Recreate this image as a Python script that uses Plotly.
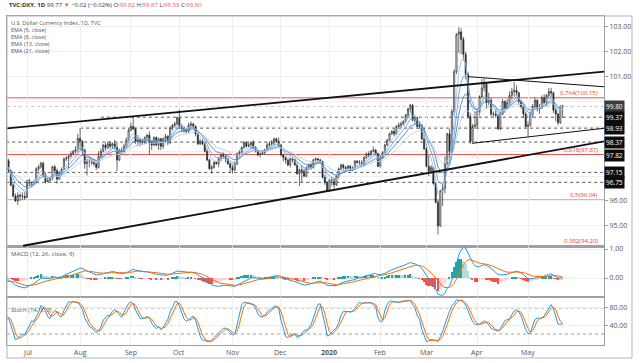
import plotly.graph_objects as go
from plotly.subplots import make_subplots
import pandas as pd

# ---------------- DATA ----------------
# daily candles, U.S. Dollar Index (TVC:DXY), 13 May 2019 .. 22 May 2020
# first 27 rows (13 May - 18 Jun 2019) are warm-up rows, left of the visible range
n_pre = 27
opens = [
 97.30,97.35,97.55,97.55,97.85,98.00,98.00,98.05,98.10,97.90,97.60,97.65,97.90,98.15,98.20,
 97.75,97.15,97.15,97.00,96.95,96.55,96.75,96.70,97.00,97.00,97.55,97.60,
 97.62,97.23,96.64,96.20,96.00,96.23,96.20,96.19,
 96.13,96.82,96.72,96.77,96.78,97.29,97.37,97.52,97.05,96.78,96.81,96.92,97.38,97.22,96.88,97.15,97.27,97.69,97.72,97.80,97.91,98.00,98.05,
 98.52,98.40,98.05,97.50,97.60,97.60,97.55,97.50,97.35,97.80,98.00,98.25,98.15,98.30,98.20,98.30,98.15,97.65,98.05,98.00,98.20,98.45,
 98.85,99.00,98.90,98.40,98.45,98.40,98.35,98.55,98.65,98.35,98.25,98.55,98.25,98.50,98.20,98.50,98.60,98.35,98.95,99.05,99.10,
 99.35,99.00,98.90,98.85,98.80,99.05,99.10,99.00,98.70,98.30,98.40,98.30,98.00,97.65,97.30,97.35,97.55,97.50,97.70,97.85,97.80,97.70,97.50,
 97.35,97.25,97.50,97.90,97.95,98.15,98.35,98.20,98.25,98.35,98.15,98.00,97.85,97.90,97.95,98.05,98.25,98.30,98.30,98.50,98.40,
 98.25,97.85,97.75,97.65,97.45,97.70,97.65,97.45,97.10,97.25,97.20,97.00,97.30,97.45,97.35,97.65,97.70,97.65,97.60,96.95,96.75,
 96.40,96.85,96.85,96.65,97.00,97.30,97.45,97.35,97.30,97.40,97.25,97.30,97.60,97.55,97.55,97.50,97.75,97.90,97.85,98.00,98.05,97.90,
 97.40,97.75,97.95,98.25,98.45,98.70,98.80,98.70,99.00,99.05,99.10,99.20,99.45,99.70,99.85,99.25,99.35,99.00,99.05,98.50,
 98.10,97.40,97.20,97.35,96.70,95.95,95.00,96.40,96.50,97.50,98.70,98.00,99.60,101.20,102.70,102.80,102.50,101.90,101.10,99.40,98.40,99.00,
 99.05,99.60,100.20,100.55,100.70,99.95,100.05,99.50,99.50,99.45,98.90,99.50,100.00,99.75,99.95,100.25,100.40,100.45,100.35,100.00,99.80,99.50,
 99.00,99.05,99.50,99.80,100.05,99.70,99.75,100.15,99.95,100.25,100.40,100.35,99.65,99.50,99.15,99.82,
]
highs = [
 97.50,97.60,97.65,97.90,98.05,98.10,98.15,98.20,98.37,97.95,97.70,97.95,98.20,98.25,98.25,
 97.80,97.35,97.40,97.10,97.05,96.80,96.85,97.05,97.10,97.55,97.65,97.70,
 97.70,97.25,96.75,96.30,96.35,96.30,96.35,96.35,
 96.85,96.90,96.80,96.85,97.35,97.45,97.58,97.58,97.15,96.95,96.95,97.40,97.45,97.30,97.20,97.35,97.75,97.80,97.85,98.00,98.05,98.20,98.70,
 98.93,98.45,98.10,97.70,97.70,97.70,97.65,97.55,98.00,98.10,98.30,98.35,98.40,98.40,98.35,98.45,98.35,98.10,98.15,98.30,98.55,98.90,
 99.15,99.37,98.95,98.65,98.55,98.50,98.60,98.70,98.80,98.45,98.60,98.60,98.55,98.55,98.55,98.70,98.65,99.00,99.10,99.20,99.40,
 99.67,99.10,99.00,98.95,99.15,99.20,99.15,99.05,98.75,98.50,98.50,98.35,98.10,97.70,97.45,97.60,97.60,97.75,97.90,97.95,97.85,97.75,97.55,
 97.45,97.60,97.95,98.05,98.20,98.40,98.40,98.35,98.40,98.45,98.20,98.05,97.95,98.05,98.10,98.35,98.40,98.45,98.55,98.55,98.55,
 98.30,97.90,97.80,97.70,97.75,97.75,97.70,97.55,97.30,97.45,97.30,97.40,97.50,97.55,97.70,97.75,97.72,97.70,97.60,97.05,96.80,
 96.85,96.95,96.90,97.05,97.35,97.50,97.50,97.40,97.45,97.45,97.40,97.65,97.65,97.65,97.65,97.80,97.95,98.00,98.05,98.20,98.10,97.95,
 97.85,98.00,98.30,98.50,98.75,98.85,98.90,99.05,99.15,99.20,99.25,99.50,99.75,99.91,99.90,99.45,99.40,99.20,99.10,98.95,
 98.30,97.85,97.45,97.40,96.75,96.05,96.45,96.70,97.80,98.75,98.90,99.70,101.30,102.75,102.99,102.95,102.60,102.00,101.20,99.55,99.10,99.60,
 99.65,100.25,100.90,100.93,100.75,100.35,100.15,99.60,99.70,99.50,99.60,100.10,100.05,100.10,100.40,100.55,100.80,100.65,100.40,100.05,99.90,99.60,
 99.20,99.60,99.90,100.15,100.10,99.90,100.25,100.30,100.30,100.55,100.55,100.40,99.75,99.55,99.85,99.87,
]
lows = [
 97.15,97.30,97.35,97.50,97.80,97.90,97.95,97.95,97.80,97.55,97.55,97.60,97.85,98.05,97.70,
 97.05,96.95,96.95,96.75,96.45,96.50,96.55,96.60,96.90,96.95,97.45,97.35,
 97.15,96.58,96.14,95.96,95.84,96.00,96.05,96.05,
 96.13,96.60,96.55,96.68,96.70,97.20,97.30,96.95,96.70,96.75,96.80,96.85,97.10,96.70,96.85,97.05,97.25,97.60,97.30,97.75,97.85,97.90,97.95,
 98.05,97.90,97.30,97.03,97.35,97.45,97.40,97.25,97.30,97.70,97.95,98.05,98.10,98.10,98.10,98.10,97.20,97.60,97.90,97.95,98.15,98.40,
 98.80,98.85,98.30,98.20,98.20,98.25,98.30,98.45,97.87,98.05,98.20,98.20,98.05,98.05,98.10,98.35,98.25,98.30,98.85,98.95,99.05,
 98.90,98.80,98.75,98.70,98.75,98.95,98.90,98.60,98.25,98.25,98.25,97.95,97.60,97.25,97.10,97.30,97.45,97.35,97.60,97.70,97.55,97.45,97.15,
 97.10,97.20,97.45,97.80,97.85,98.10,98.15,98.15,98.10,98.10,97.95,97.80,97.75,97.85,97.85,98.00,98.15,98.20,98.25,98.35,98.15,
 97.80,97.60,97.50,97.40,97.35,97.55,97.40,97.05,96.60,96.75,96.95,96.95,97.25,97.25,97.30,97.55,97.55,97.50,96.90,96.65,96.36,
 96.38,96.60,96.50,96.60,96.90,97.25,97.20,97.20,97.25,97.20,97.20,97.25,97.50,97.45,97.45,97.45,97.70,97.75,97.80,97.95,97.85,97.35,
 97.35,97.70,97.90,98.20,98.40,98.65,98.60,98.65,98.95,98.95,99.05,99.15,99.40,99.55,99.20,99.10,98.95,98.90,98.45,98.05,
 97.35,97.00,97.10,96.65,95.90,94.65,94.95,95.80,96.30,97.45,97.60,97.90,99.40,101.10,101.95,101.90,101.65,100.90,99.30,98.30,98.35,98.90,
 98.90,99.45,100.15,100.40,99.70,99.85,99.40,99.40,99.35,98.85,98.85,99.45,99.55,99.70,99.85,100.10,100.20,100.20,99.85,99.70,99.35,98.95,
 98.60,99.00,99.35,99.70,99.60,99.50,99.70,99.90,99.80,100.15,100.15,99.55,99.20,99.05,99.10,99.33,
]
closes = [
 97.35,97.55,97.55,97.85,98.00,98.00,98.05,98.10,97.90,97.60,97.65,97.90,98.15,98.20,97.75,
 97.15,97.15,97.00,96.95,96.55,96.75,96.70,97.00,97.00,97.55,97.60,97.62,
 97.23,96.64,96.20,96.00,96.23,96.20,96.19,96.13,
 96.82,96.72,96.77,96.78,97.29,97.37,97.52,97.05,96.78,96.81,96.92,97.38,97.22,96.88,97.15,97.27,97.69,97.72,97.80,97.91,98.00,98.05,98.52,
 98.40,98.05,97.50,97.60,97.60,97.55,97.50,97.35,97.80,98.00,98.25,98.15,98.30,98.20,98.30,98.15,97.65,98.05,98.00,98.20,98.45,98.85,
 99.00,98.90,98.40,98.45,98.40,98.35,98.55,98.65,98.35,98.25,98.55,98.25,98.50,98.20,98.50,98.60,98.35,98.95,99.05,99.10,99.35,
 99.00,98.90,98.85,98.80,99.05,99.10,99.00,98.70,98.30,98.40,98.30,98.00,97.65,97.30,97.35,97.55,97.50,97.70,97.85,97.80,97.70,97.50,97.35,
 97.25,97.50,97.90,97.95,98.15,98.35,98.20,98.25,98.35,98.15,98.00,97.85,97.90,97.95,98.05,98.25,98.30,98.30,98.50,98.40,98.25,
 97.85,97.75,97.65,97.45,97.70,97.65,97.45,97.10,97.25,97.20,97.00,97.30,97.45,97.35,97.65,97.70,97.65,97.60,96.95,96.75,96.40,
 96.85,96.85,96.65,97.00,97.30,97.45,97.35,97.30,97.40,97.25,97.30,97.60,97.55,97.55,97.50,97.75,97.90,97.85,98.00,98.05,97.90,97.40,
 97.75,97.95,98.25,98.45,98.70,98.80,98.70,99.00,99.05,99.10,99.20,99.45,99.70,99.85,99.25,99.35,99.00,99.05,98.50,98.10,
 97.40,97.20,97.35,96.70,95.95,95.00,96.40,96.50,97.50,98.70,98.00,99.60,101.20,102.70,102.80,102.50,101.90,101.10,99.40,98.40,99.00,99.05,
 99.60,100.20,100.55,100.70,99.95,100.05,99.50,99.50,99.45,98.90,99.50,100.00,99.75,99.95,100.25,100.40,100.45,100.35,100.00,99.80,99.50,99.00,
 99.05,99.50,99.80,100.05,99.70,99.75,100.15,99.95,100.25,100.40,100.35,99.65,99.50,99.15,99.82,99.80,
]

month_tick_idx = [8, 31, 53, 74, 97, 118, 139, 161, 181, 203, 225]
month_tick_text = ['Jul', 'Aug', 'Sep', 'Oct', 'Nov', 'Dec', '<b>2020</b>', 'Feb', 'Mar', 'Apr', 'May']

ema_periods = [5, 8, 13, 21]
ema_names = ['EMA (5, close)', 'EMA (8, close)', 'EMA (13, close)', 'EMA (21, close)']

fib_levels = [100.15, 97.87, 96.04, 94.20]
fib_labels = ['0.764(100.15)', '0.618(97.87)', '0.5(96.04)', '0.382(94.20)']

level_prices = [99.37, 98.93, 98.37, 97.15, 96.75]
level_start_idx = [40, 31, -1, -1, -1]

tag_prices = [99.80, 99.37, 98.93, 98.37, 97.82, 97.15, 96.75]

# trendlines: (start idx, start price, end idx, end price)
channel_upper = (-1.0, 98.92, 258.5, 101.21)
channel_lower = (6.3, 94.20, 258.5, 98.41)
tri_upper = (199.0, 101.00, 258.5, 100.59)
tri_lower = (200.7, 98.32, 258.5, 98.93)

price_ticks = [95, 96, 97, 98, 99, 100, 101, 102, 103]
price_tick_shown = [95, 96, 101, 102, 103]   # the others sit under the price tags

# ---------------- INDICATORS ----------------
idx = list(range(-n_pre, len(closes) - n_pre))
df = pd.DataFrame(dict(o=opens, h=highs, l=lows, c=closes), index=idx)
emas = [df.c.ewm(span=p, adjust=False).mean() for p in ema_periods]
macd = df.c.ewm(span=12, adjust=False).mean() - df.c.ewm(span=26, adjust=False).mean()
signal = macd.ewm(span=9, adjust=False).mean()
hist = macd - signal
prev = hist.shift(1).fillna(0)
hist_colors = []
for h, p in zip(hist, prev):
    if h >= 0:
        hist_colors.append('#26a69a' if h >= p else '#b2dfdb')
    else:
        hist_colors.append('#ef5350' if h <= p else '#ffcdd2')
ll = df.l.rolling(14).min()
hh = df.h.rolling(14).max()
k_raw = 100 * (df.c - ll) / (hh - ll)
stoch_k = k_raw.rolling(3).mean()
stoch_d = stoch_k.rolling(3).mean()

# ---------------- FIGURE ----------------
FONT = 'Open Sans'
fig = make_subplots(rows=3, cols=1, shared_xaxes=True, vertical_spacing=0)

fig.add_trace(go.Candlestick(
    x=idx, open=df.o, high=df.h, low=df.l, close=df.c,
    increasing=dict(line=dict(color='#2a2a2a', width=0.7), fillcolor='#ffffff'),
    decreasing=dict(line=dict(color='#2a2a2a', width=0.7), fillcolor='#2a2a2a'),
    whiskerwidth=0, showlegend=False, hoverinfo='skip'), row=1, col=1)

ema_colors = ['#9cc3ea', '#6ea5dc', '#4f86c6', '#b9d0ea']
for s, c in zip(emas, ema_colors):
    fig.add_trace(go.Scatter(x=idx, y=s, mode='lines', line=dict(color=c, width=0.9),
                             showlegend=False, hoverinfo='skip'), row=1, col=1)

fig.add_trace(go.Bar(x=idx, y=hist, marker=dict(color=hist_colors, line=dict(width=0)),
                     width=0.7, showlegend=False, hoverinfo='skip'), row=2, col=1)
fig.add_trace(go.Scatter(x=idx, y=macd, mode='lines', line=dict(color='#2196f3', width=1),
                         showlegend=False, hoverinfo='skip'), row=2, col=1)
fig.add_trace(go.Scatter(x=idx, y=signal, mode='lines', line=dict(color='#ff6d00', width=1),
                         showlegend=False, hoverinfo='skip'), row=2, col=1)

fig.add_trace(go.Scatter(x=idx, y=stoch_k, mode='lines', line=dict(color='#2196f3', width=1),
                         showlegend=False, hoverinfo='skip'), row=3, col=1)
fig.add_trace(go.Scatter(x=idx, y=stoch_d, mode='lines', line=dict(color='#ff6d00', width=1),
                         showlegend=False, hoverinfo='skip'), row=3, col=1)

# ---- shapes ----
shapes = []
for lvl in fib_levels:
    shapes.append(dict(type='line', xref='x domain', x0=0, x1=1, yref='y', y0=lvl, y1=lvl,
                       line=dict(color='#ef5350', width=1), layer='below'))
shapes.append(dict(type='line', xref='x domain', x0=0, x1=1, yref='y', y0=99.80, y1=99.80,
                   line=dict(color='#d8c8cc', width=1, dash='dot'), layer='below'))
for lvl, st in zip(level_prices, level_start_idx):
    shapes.append(dict(type='line', xref='x', x0=st, x1=258.5, yref='y', y0=lvl, y1=lvl,
                       line=dict(color='#555555', width=1, dash='dot'), layer='below'))
for ln, w in [(channel_upper, 1.8), (channel_lower, 1.8), (tri_upper, 1), (tri_lower, 1)]:
    shapes.append(dict(type='line', xref='x', yref='y', x0=ln[0], y0=ln[1], x1=ln[2], y1=ln[3],
                       line=dict(color='#111111', width=w)))
for lvl in [80, 20]:
    shapes.append(dict(type='line', xref='x3 domain', x0=0, x1=1, yref='y3', y0=lvl, y1=lvl,
                       line=dict(color='#9e9e9e', width=1, dash='dot'), layer='below'))
# outer frame
shapes.append(dict(type='rect', xref='paper', yref='paper', x0=0, x1=1.0469, y0=-0.0395, y1=1,
                   line=dict(color='#b5b5b5', width=1)))

# ---- annotations ----
ann = []
for lvl, txt in zip(fib_levels, fib_labels):
    ann.append(dict(x=256.2, y=lvl, xref='x', yref='y', text=txt, showarrow=False,
                    xanchor='right', yanchor='bottom', yshift=-1,
                    font=dict(family=FONT, size=6, color='#e53935')))
for p in tag_prices:
    ann.append(dict(x=1, y=p, xref='paper', yref='y', text=f'{p:.2f}', showarrow=False,
                    xanchor='left', yanchor='middle', xshift=0,
                    bgcolor='#3a3a3a' if p == 99.80 else '#0d0d0d', borderpad=1,
                    font=dict(family=FONT, size=6.5, color='white')))
for t, txt in zip(month_tick_idx, month_tick_text):
    ann.append(dict(x=t, y=(345 - 352) / 329, xref='x3', yref='paper', text=txt, showarrow=False,
                    xanchor='center', yanchor='middle',
                    font=dict(family=FONT, size=7, color='#555555')))

red = '#ef5350'
header = ("<b>TVC:DXY, 1D</b> 99.77 <span style='color:%s'>▼</span> −0.02 (−0.02%%) "
          "O:<span style='color:%s'>99.82</span> H:<span style='color:%s'>99.87</span> "
          "L:<span style='color:%s'>99.33</span> C:<span style='color:%s'>99.80</span>") % (red, red, red, red, red)
ann.append(dict(x=0, y=1.034, xref='paper', yref='paper', text=header, showarrow=False,
                xanchor='left', yanchor='middle', font=dict(family=FONT, size=6, color='#333333')))

legend_lines = ['U.S. Dollar Currency Index, 1D, TVC'] + ema_names
for i, t in enumerate(legend_lines):
    ann.append(dict(x=0.004, y=(345 - (23 + 6.9 * i)) / 329, xref='paper', yref='paper', text=t,
                    showarrow=False, xanchor='left', yanchor='middle',
                    font=dict(family=FONT, size=5.5, color='#555555')))
ann.append(dict(x=0.004, y=(345 - 254) / 329, xref='paper', yref='paper', text='MACD (12, 26, close, 9)',
                showarrow=False, xanchor='left', yanchor='middle', font=dict(family=FONT, size=6, color='#555555')))
ann.append(dict(x=0.004, y=(345 - 310) / 329, xref='paper', yref='paper', text='Stoch (14, 3, 3)',
                showarrow=False, xanchor='left', yanchor='middle', font=dict(family=FONT, size=6, color='#555555')))

# ---- axes ----
xr = [-0.66, 257.9]
axis_common = dict(showline=True, linecolor='#a0a0a0', linewidth=1, mirror=True, zeroline=False)
for r in [1, 2, 3]:
    fig.update_xaxes(row=r, col=1, range=xr, tickvals=month_tick_idx, ticktext=month_tick_text,
                     showgrid=True, gridcolor='#efefef', gridwidth=1, rangeslider=dict(visible=False),
                     showticklabels=False, ticks='', **axis_common)

ytick = dict(side='right', ticks='outside', ticklen=3, tickcolor='#a0a0a0',
             tickfont=dict(family=FONT, size=7, color='#555555'), showgrid=True, gridcolor='#efefef')
fig.update_yaxes(row=1, col=1, domain=[0.2979, 1], range=[94.15, 103.44], tickvals=price_ticks,
                 ticktext=[f'{v:.2f}' if v in price_tick_shown else '' for v in price_ticks],
                 **ytick, **axis_common)
fig.update_yaxes(row=2, col=1, domain=[0.1459, 0.2979], range=[-0.655, 1.07], tickvals=[0, 1],
                 ticktext=['0.00', '1.00'], **ytick, **axis_common)
fig.update_yaxes(row=3, col=1, domain=[0, 0.1459], range=[-5.4, 105.4], tickvals=[40, 80],
                 ticktext=['40.00', '80.00'], **ytick, **axis_common)

fig.update_layout(width=640, height=363, margin=dict(l=7, r=36, t=16, b=18, autoexpand=False),
                  paper_bgcolor='white', plot_bgcolor='white', showlegend=False,
                  shapes=shapes, annotations=ann, bargap=0,
                  font=dict(family=FONT, size=7, color='#555555'))

# the page body has a default 8px margin; remove it so the figure fills the window
fig.write_html('out.html', config={'displayModeBar': False},
               post_script="document.body.style.margin='0';document.body.style.overflow='hidden';")
